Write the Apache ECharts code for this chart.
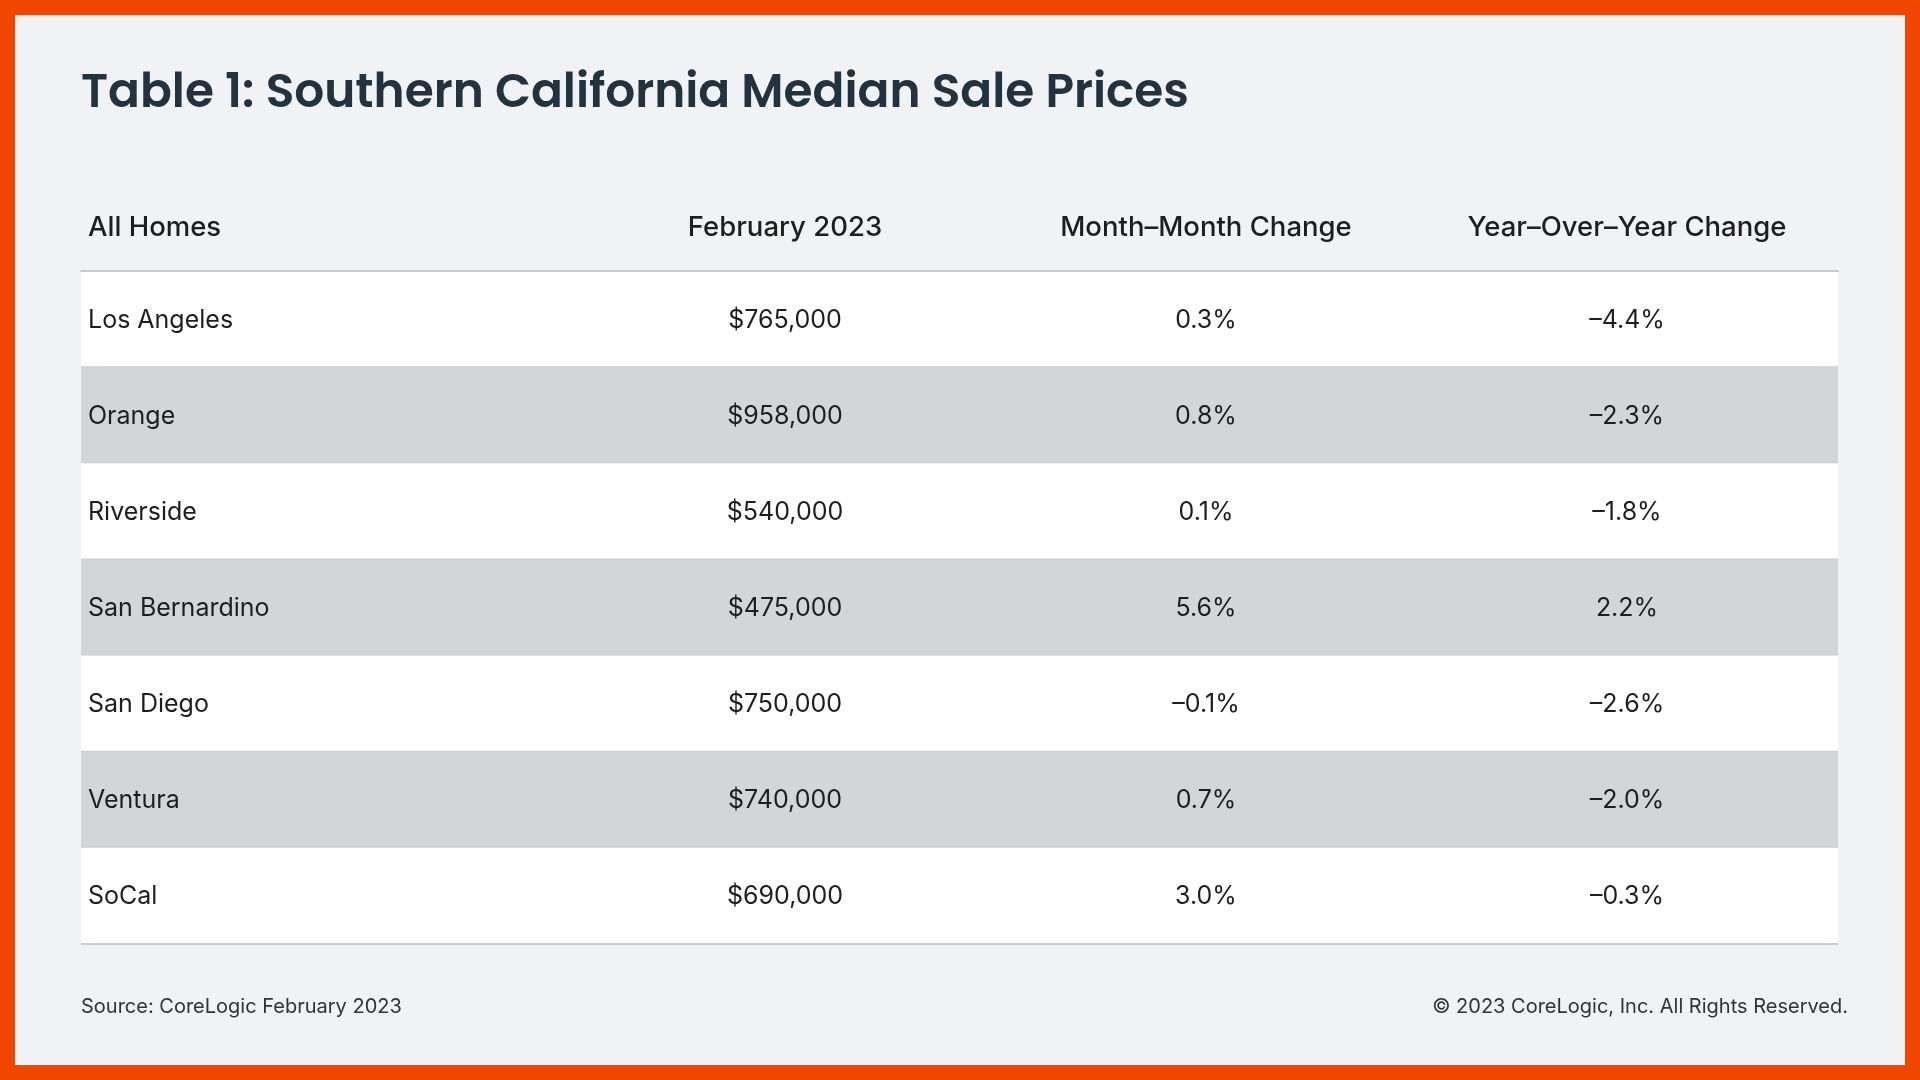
<!DOCTYPE html>
<html><head><meta charset="utf-8">
<style>html,body{margin:0;padding:0;background:#F04600;}#c{width:1920px;height:1080px;}</style>
<script src="https://cdn.jsdelivr.net/npm/echarts@6/dist/echarts.min.js"></script>
</head><body><div id="c"></div>
<script>
const titleText = 'Table 1: Southern California Median Sale Prices';
const headers = ['All Homes', 'February 2023', 'Month–Month Change', 'Year–Over–Year Change'];
const regions = ['Los Angeles', 'Orange', 'Riverside', 'San Bernardino', 'San Diego', 'Ventura', 'SoCal'];
const medianPrice = [765000, 958000, 540000, 475000, 750000, 740000, 690000];
const momChange = [0.3, 0.8, 0.1, 5.6, -0.1, 0.7, 3.0];
const yoyChange = [-4.4, -2.3, -1.8, 2.2, -2.6, -2.0, -0.3];
const sourceText = 'Source: CoreLogic February 2023';
const copyrightText = '© 2023 CoreLogic, Inc. All Rights Reserved.';

// layout
const GRID = {left: 81, right: 82, top: 271, bottom: 136};
const colAnchor = [7/1757, 704/1757, 1125/1757, 1546/1757];
const BODY_FONT = 'Inter';

const fmtPrice = v => '$' + v.toLocaleString('en-US');
const fmtPct = v => (v < 0 ? '–' : '') + Math.abs(v).toFixed(1) + '%';

const chart = echarts.init(document.getElementById('c'));
const W = 1920;
const gridW = W - GRID.left - GRID.right;

chart.setOption({
  backgroundColor: '#F1F2F4',
  animation: false,
  grid: GRID,
  xAxis: {type: 'value', min: 0, max: 1, position: 'top', z: 10,
    axisLine: {show: true, onZero: false, lineStyle: {color: '#C6CACE', width: 2}},
    axisTick: {show: false}, axisLabel: {show: false}, splitLine: {show: false}},
  yAxis: {type: 'category', data: regions, inverse: true, show: false},
  graphic: [
    {type: 'rect', left: 0, top: 0, z: 100, silent: true,
      shape: {x: 7.5, y: 7.5, width: 1905, height: 1065},
      style: {fill: 'none', stroke: '#F04600', lineWidth: 15}},
    {type: 'text', x: 81, y: 95, style: {text: titleText, fill: '#22323F',
      fontFamily: 'Poppins, Inter', fontWeight: 600, fontSize: 47, verticalAlign: 'middle', align: 'left'}},
    ...headers.map((h, i) => ({type: 'text',
      x: GRID.left + colAnchor[i] * gridW, y: 228,
      style: {text: h, fill: '#1E1E1E', fontFamily: BODY_FONT, fontWeight: 500, fontSize: 27.5,
        align: i === 0 ? 'left' : 'center', verticalAlign: 'middle'}})),
    {type: 'text', x: 81, y: 1007, style: {text: sourceText, fill: '#333333',
      fontFamily: BODY_FONT, fontSize: 20, align: 'left', verticalAlign: 'middle'}},
    {type: 'text', x: 1848, y: 1007, style: {text: copyrightText, fill: '#333333',
      fontFamily: BODY_FONT, fontSize: 20, align: 'right', verticalAlign: 'middle'}}
  ],
  series: [{
    type: 'custom',
    data: regions.map((r, i) => [i]),
    encode: {y: 0},
    renderItem: function (params, api) {
      const i = api.value(0);
      const cs = params.coordSys;
      const c = api.coord([0, i]);
      const h = api.size([0, 1])[1];
      const top = c[1] - h / 2;
      const texts = [regions[i], fmtPrice(medianPrice[i]), fmtPct(momChange[i]), fmtPct(yoyChange[i])];
      const children = [
        {type: 'rect', shape: {x: cs.x, y: top, width: cs.width, height: h},
          style: {fill: i % 2 === 1 ? '#D2D6D9' : '#FFFFFF'}},
        {type: 'line', shape: {x1: cs.x, y1: top + h, x2: cs.x + cs.width, y2: top + h},
          style: {stroke: '#C6CCD1', lineWidth: 2}}
      ];
      texts.forEach((t, k) => children.push({type: 'text',
        x: cs.x + colAnchor[k] * cs.width, y: c[1] + 1,
        style: {text: t, fill: '#1E1E1E', fontFamily: BODY_FONT, fontSize: 25,
          align: k === 0 ? 'left' : 'center', verticalAlign: 'middle'}}));
      return {type: 'group', children: children};
    }
  }]
});
</script></body></html>
